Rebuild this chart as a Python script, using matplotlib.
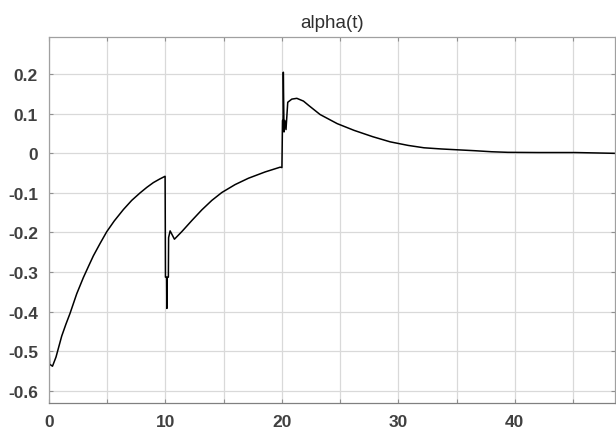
import matplotlib
matplotlib.use("Agg")
import matplotlib.pyplot as plt

# time samples (s) and alpha values
t = [0.0, 0.02, 0.05, 0.3, 0.6, 1.09, 1.45, 1.8, 2.38, 2.95, 3.4, 3.81, 4.4, 4.96, 5.6, 6.39,
     7.1, 7.82, 8.4, 8.96, 9.5, 9.97,
     10.0, 10.1, 10.12, 10.15, 10.25, 10.27, 10.4, 10.77, 11.4, 12.26, 13.12, 13.98, 14.84,
     15.98, 17.12, 18.56, 19.85,
     20.0, 20.05, 20.1, 20.12, 20.18, 20.25, 20.35, 20.5, 20.85, 21.28, 21.85, 22.3,
     23.28, 24.75, 26.2, 27.8, 29.3, 30.84, 32.2, 33.7, 35.0, 36.57, 38.0, 39.4, 42.0, 45.2, 48.6]
alpha = [-0.50, -0.50, -0.533, -0.538, -0.515, -0.462, -0.432, -0.405, -0.355, -0.314, -0.285,
         -0.259, -0.227, -0.198, -0.171, -0.142, -0.119, -0.100, -0.086, -0.074, -0.065, -0.058,
         -0.313, -0.313, -0.392, -0.313, -0.313, -0.213, -0.196, -0.217, -0.198, -0.170, -0.143,
         -0.119, -0.099, -0.079, -0.063, -0.047, -0.035,
         -0.036, 0.083, 0.083, 0.205, 0.054, 0.083, 0.060, 0.129, 0.137, 0.139, 0.132, 0.121,
         0.098, 0.075, 0.058, 0.042, 0.029, 0.020, 0.014, 0.011, 0.009, 0.0066, 0.004, 0.0025,
         0.002, 0.002, 0.0]

xticks = [0, 5, 10, 15, 20, 25, 30, 35, 40, 45]
xticklabels = ["0", "", "10", "", "20", "", "30", "", "40", ""]
yticks = [-0.6, -0.5, -0.4, -0.3, -0.2, -0.1, 0, 0.1, 0.2]
yticklabels = ["-0.6", "-0.5", "-0.4", "-0.3", "-0.2", "-0.1", "0", "0.1", "0.2"]
title = "alpha(t)"

plt.rcParams["font.family"] = ["Liberation Sans", "DejaVu Sans"]

fig = plt.figure(figsize=(6.16, 4.35), dpi=100)
ax = fig.add_axes([49 / 616, 1 - 404 / 435, (615 - 49) / 616, (404 - 38) / 435])

ax.plot(t, alpha, color="black", linewidth=1.1)

ax.set_xlim(0, 48.6)
ax.set_ylim(-0.631, 0.294)
ax.set_xticks(xticks)
ax.set_xticklabels(xticklabels)
ax.set_yticks(yticks)
ax.set_yticklabels(yticklabels)

ax.grid(True, color="#d9d9d9", linewidth=0.9)
ax.set_axisbelow(True)
for s in ax.spines.values():
    s.set_color("#a0a0a0")
    s.set_linewidth(0.9)
ax.spines["bottom"].set_color("#808080")
ax.tick_params(direction="in", length=3, color="#909090", labelsize=12.5,
               labelcolor="#404040", top=True, right=True, pad=8)
for lab in ax.get_xticklabels() + ax.get_yticklabels():
    lab.set_fontweight("bold")

ax.set_title(title, fontsize=13.5, color="#303030", pad=7)

fig.savefig("out.png", dpi=100)
